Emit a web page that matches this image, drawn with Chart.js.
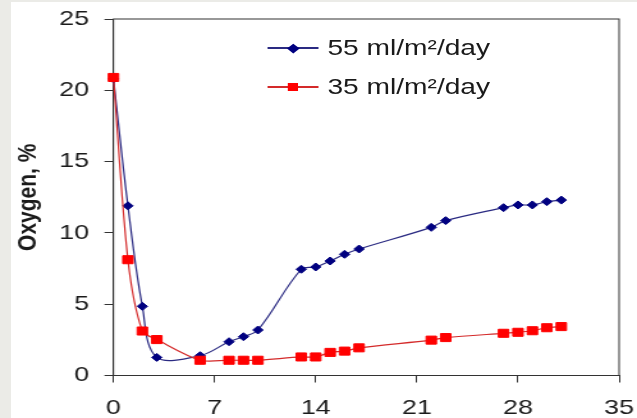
<!DOCTYPE html>
<html>
<head>
<meta charset="utf-8">
<script src="https://cdn.jsdelivr.net/npm/chart.js@4.4.1/dist/chart.umd.min.js"></script>
<style>
  html, body { margin:0; padding:0; }
  body { width:637px; height:418px; background:#ebebe7; position:relative; overflow:hidden; font-family:"Liberation Sans", Arial, sans-serif; }
  .panel { position:absolute; left:11px; top:2px; right:0; bottom:0; background:#fff; }
  /* the source picture is stretched sideways, so the chart is drawn narrow and widened */
  .wrap { position:absolute; left:0; top:0; width:498px; height:418px; transform:scaleX(1.2791); transform-origin:0 0; }
  .legend-item { position:absolute; left:209px; height:24px; display:flex; align-items:center; font-size:22px; color:#1a1a1a; white-space:nowrap; }
  .sym { position:relative; width:40px; height:24px; margin-right:7px; }
  .sym .ln { position:absolute; left:0; right:0; top:11.4px; height:1.3px; }
  .sym .mk { position:absolute; }
  .sym .diamond { width:6.6px; height:6.6px; left:16.7px; top:8.7px; transform:rotate(45deg); background:#000080; }
  .sym .square { width:8.6px; height:8.6px; left:15.7px; top:7.7px; background:#ff0000; }
</style>
</head>
<body>
<div class="panel"></div>
<div class="wrap">
  <canvas id="oxygenChart"></canvas>
  <div class="legend-item" style="top:36px">
    <span class="sym"><span class="ln" style="background:#2a2a82"></span><span class="mk diamond"></span></span>
    <span>55 ml/m²/day</span>
  </div>
  <div class="legend-item" style="top:75px">
    <span class="sym"><span class="ln" style="background:#d42a2a"></span><span class="mk square"></span></span>
    <span>35 ml/m²/day</span>
  </div>
</div>

<script>
// storage days
const days = [0, 1, 2, 3, 6, 8, 9, 10, 13, 14, 15, 16, 17, 22, 23, 27, 28, 29, 30, 31];
// headspace oxygen, %
const oxygen55 = [20.8, 11.9, 4.85, 1.27, 1.39, 2.37, 2.72, 3.19, 7.45, 7.61, 8.03, 8.5, 8.87, 10.39, 10.86, 11.77, 11.96, 11.96, 12.19, 12.3];
const oxygen35 = [20.9, 8.12, 3.12, 2.52, 1.07, 1.07, 1.07, 1.07, 1.3, 1.3, 1.62, 1.71, 1.94, 2.48, 2.66, 2.96, 3.03, 3.14, 3.35, 3.43];
const xTicks = [0, 7, 14, 21, 28, 35];
const yTicks = [0, 5, 10, 15, 20, 25];

const toPoints = (ys) => days.map((d, i) => ({ x: d, y: ys[i] }));

Chart.defaults.font.family = '"Liberation Sans", Arial, sans-serif';
Chart.defaults.color = "#1a1a1a";

// box round the plot area (top and right sides too)
const frame = {
  id: "frame",
  beforeDatasetsDraw(chart) {
    const { ctx, chartArea: a } = chart;
    ctx.save();
    ctx.strokeStyle = "#333";
    ctx.lineWidth = 1;
    ctx.strokeRect(a.left, a.top, a.right - a.left, a.bottom - a.top);
    ctx.restore();
  },
};

new Chart(document.getElementById("oxygenChart"), {
  type: "line",
  data: {
    datasets: [
      {
        label: "55 ml/m²/day",
        data: toPoints(oxygen55),
        borderColor: "#2a2a82",
        borderWidth: 1.2,
        pointStyle: "rectRot",
        pointRadius: 4,
        pointBorderWidth: 1,
        pointBackgroundColor: "#000080",
        pointBorderColor: "#000080",
        tension: 0.35,
        clip: false,
        order: 2,
      },
      {
        label: "35 ml/m²/day",
        data: toPoints(oxygen35),
        borderColor: "#d42a2a",
        borderWidth: 1.2,
        pointStyle: "rect",
        pointRadius: 5.7,
        pointBorderWidth: 1,
        pointBackgroundColor: "#ff0000",
        pointBorderColor: "#ff0000",
        tension: 0.3,
        clip: false,
        order: 1,
      },
    ],
  },
  options: {
    responsive: true,
    maintainAspectRatio: false,
    animation: false,
    events: [],
    layout: { padding: { top: 19, right: 14, bottom: 0, left: 0 } },
    plugins: { legend: { display: false }, tooltip: { enabled: false } },
    scales: {
      x: {
        type: "linear",
        min: 0,
        max: 35,
        afterBuildTicks: (s) => { s.ticks = xTicks.map(v => ({ value: v })); },
        afterFit: (s) => { s.height = 42.5; s.paddingLeft = 0; s.paddingRight = 0; },
        grid: { drawOnChartArea: false, tickLength: 7, color: "#333" },
        border: { color: "#333", width: 1 },
        ticks: { font: { size: 21 }, padding: 13, maxRotation: 0 },
      },
      y: {
        min: 0,
        max: 25,
        afterBuildTicks: (s) => { s.ticks = yTicks.map(v => ({ value: v })); },
        afterFit: (s) => { s.width = 88.7; s.paddingTop = 0; s.paddingBottom = 0; },
        grid: { drawOnChartArea: false, tickLength: 7, color: "#333" },
        border: { color: "#333", width: 1 },
        ticks: { font: { size: 21 }, padding: 12 },
        title: {
          display: true,
          text: "Oxygen, %",
          font: { size: 21, weight: "bold" },
          padding: { top: 9.5, bottom: 0 },
        },
      },
    },
  },
  plugins: [frame],
});
</script>
</body>
</html>
